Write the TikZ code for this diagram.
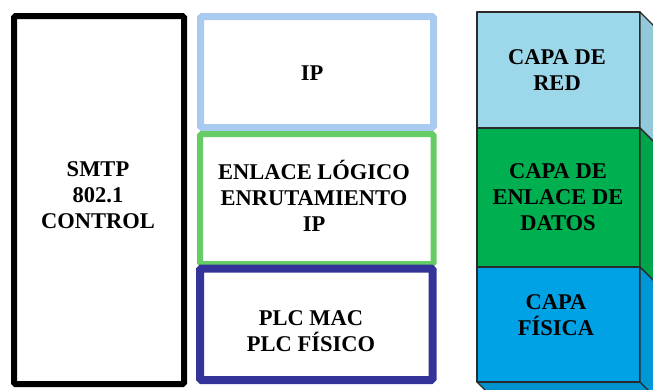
\documentclass[tikz,border=0pt]{standalone}
\usepackage{fontspec}
\newfontfamily\labelfont{Liberation Serif Bold}
\definecolor{ipblue}{HTML}{A9CBF0}
\definecolor{llcgreen}{HTML}{66CC66}
\definecolor{plcblue}{HTML}{333399}
\definecolor{redface}{HTML}{9DD8EA}
\definecolor{enlface}{HTML}{00B050}
\definecolor{fisface}{HTML}{00A2E6}
\definecolor{edge}{HTML}{2A2A2A}
\begin{document}
\begin{tikzpicture}[x=1pt,y=-1pt,
  lbl/.style={font=\labelfont\fontsize{22.5}{26}\selectfont, align=center, inner sep=0pt},
  frame/.style={line width=#1, rounded corners=1.5pt},
  cube/.style={draw=edge, line width=1.3pt, line join=round}]
\useasboundingbox (0,0) rectangle (653,389);
\clip (0,0) rectangle (653,389);

% protocol column
\draw[frame=6pt, black] (14,16) rectangle (184,384);
\node[lbl] (smtp) at (98,195) {SMTP\\802.1\\CONTROL};

% stack of functions
\draw[frame=7pt, ipblue] (200.5,16.5) rectangle (433.5,127.5);
\draw[frame=6pt, llcgreen] (200,134) rectangle (433.5,264);
\draw[frame=8pt, plcblue] (200,268.5) rectangle (432.5,380);
\node[lbl] (ip) at (312,73) {IP};
\node[lbl] (llc) at (314,196) {ENLACE LÓGICO\\ENRUTAMIENTO\\IP};
\node[lbl] (plc) at (311,331) {PLC MAC\\PLC FÍSICO};

% layer block with depth
\def\dx{20}\def\dy{20}
\fill[fisface!90!black] (477,382) -- (640,382) -- ++(\dx,\dy) -- (477+\dx,382+\dy) -- cycle;
\draw[cube] (477,382) -- (477+\dx,382+\dy) -- ++(163,0);
\foreach \t/\b/\c in {12/128/redface, 128/267/enlface, 267/382/fisface}{
  \filldraw[cube, fill=\c] (477,\t) rectangle (640,\b);
  \filldraw[cube, fill=\c!93!black] (640,\t) -- ++(\dx,\dy) -- (640+\dx,\b+\dy) -- (640,\b) -- cycle;
}
\node[lbl] (red) at (557,70) {CAPA DE\\RED};
\node[lbl] (enl) at (558,197) {CAPA DE\\ENLACE DE\\DATOS};
\node[lbl] (fis) at (556,315) {CAPA\\FÍSICA};
\end{tikzpicture}
\end{document}
